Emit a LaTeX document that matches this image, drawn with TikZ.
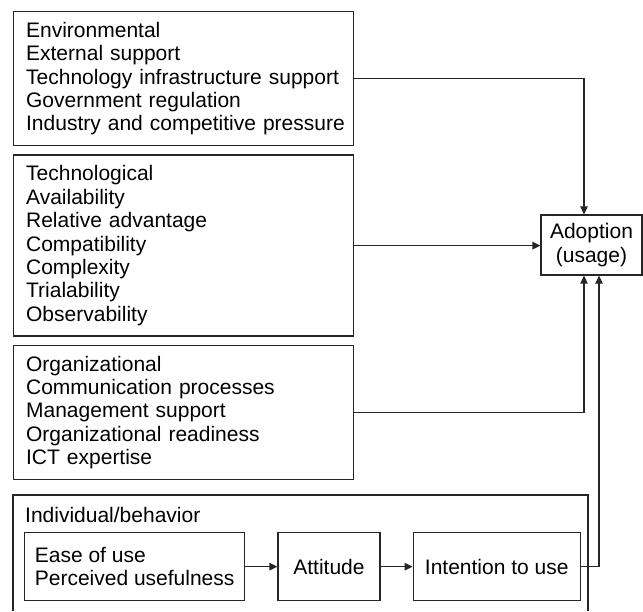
\documentclass[tikz,border=0pt]{standalone}
\usepackage{fontspec}
\setmainfont{Liberation Sans}
\usepackage{tikz}
\usetikzlibrary{
    positioning,
    arrows.meta
}
\tikzset{
    % factor boxes on the left
    factorbox/.style={
        rectangle,
        draw=black!85,
        line width=1.3pt,
        text width=326pt,
        align=left,
        inner xsep=7pt,
        inner ysep=10.5pt,
        font=\fontsize{21}{23.4}\selectfont,
        execute at begin node={\leftskip=5.5pt\relax}
    },
    % small boxes inside the individual frame
    stagebox/.style={
        rectangle,
        draw=black!85,
        line width=1.3pt,
        minimum height=68pt,
        inner xsep=9pt,
        font=\fontsize{21}{23.4}\selectfont
    },
    % connectors
    arrow/.style={
        -{Triangle[length=8pt, width=7.5pt]},
        draw=black!85,
        line width=1.3pt
    }
}
\begin{document}
\begin{tikzpicture}[x=1pt, y=-1pt]
    \useasboundingbox (0,0) rectangle (643,611);

    % Factor groups
    \node[factorbox, anchor=north west] (env) at (13,11)
        {Environmental\\External support\\Technology infrastructure support\\Government regulation\\Industry and competitive pressure};
    \node[factorbox, below=8pt of env] (tech)
        {Technological\\Availability\\Relative advantage\\Compatibility\\Complexity\\Trialability\\Observability};
    \node[factorbox, below=8pt of tech] (org)
        {Organizational\\Communication processes\\Management support\\Organizational readiness\\ICT expertise};

    % Outcome
    \node[stagebox, align=center, minimum width=99pt, minimum height=60pt] (adopt) at (591.5,245)
        {Adoption\\(usage)};

    % Individual/behavior frame (runs off the bottom)
    \draw[draw=black!85, line width=1.3pt] (13,611) |- (588,495) -- (588,611);
    \node[anchor=base west, inner sep=0pt, font=\fontsize{21}{23.4}\selectfont] (indlbl) at (25,522) {Individual/behavior};

    \node[stagebox, align=left, minimum width=220pt, anchor=north west] (ease) at (24,532)
        {Ease of use\\Perceived usefulness};
    \node[stagebox, minimum width=102pt, right=32pt of ease] (att) {Attitude};
    \node[stagebox, minimum width=167pt, right=32pt of att] (intent) {Intention to use};

    % Arrows
    \draw[arrow] (env.east) -| ([xshift=-7.5]adopt.north);
    \draw[arrow] (tech.east) -- (tech.east -| adopt.west);
    \draw[arrow] (org.east) -| ([xshift=-7.5]adopt.south);
    \draw[arrow] (ease) -- (att);
    \draw[arrow] (att) -- (intent);
    \draw[arrow] (intent.east) -| ([xshift=7.5]adopt.south);

\end{tikzpicture}
\end{document}
